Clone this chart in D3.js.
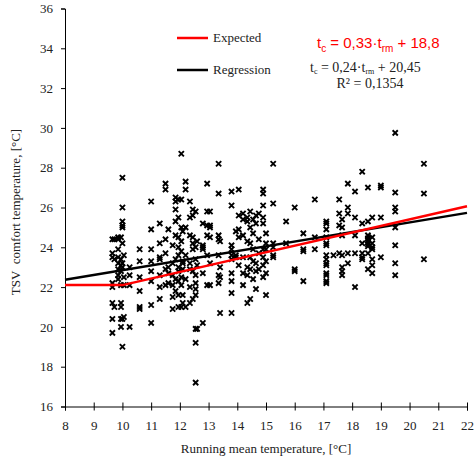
<!DOCTYPE html>
<html lang="en">
<head>
<meta charset="UTF-8">
<title>TSV comfort temperature</title>
<style>
  body { margin: 0; padding: 0; background: #fff; }
  svg { display: block; }
  .tick text { font-family: "Liberation Serif", "Times New Roman", serif; font-size: 13px; fill: #222; }
  .serif { font-family: "Liberation Serif", "Times New Roman", serif; fill: #222; }
</style>
</head>
<body>
<svg id="chart" width="475" height="464"></svg>
<script src="https://d3js.org/d3.v7.min.js"></script>
<script>
// running mean temperature columns and observed comfort temperatures at each
const rmColumns = [9.65, 9.72, 9.85, 9.95, 10.0, 10.05, 10.25, 10.6, 11.0, 11.3,
  11.5, 11.6, 11.75, 11.85, 11.95, 12.05, 12.1, 12.2, 12.35, 12.45,
  12.55, 12.6, 12.8, 12.95, 13.05, 13.35, 13.4, 13.8, 13.95, 14.05,
  14.2, 14.35, 14.45, 14.55, 14.65, 14.75, 14.9, 15.0, 15.25, 15.7,
  16.0, 16.3, 16.7, 17.1, 17.35, 17.55, 17.65, 17.85, 18.1, 18.35,
  18.55, 18.7, 19.0, 19.5, 20.5];
const tsvValues = [
  [23.7, 23.5, 22.2, 22.0, 21.2, 20.4, 19.7, 24.4],
  [24.4, 23.4, 21.0],
  [24.5, 24.4, 23.9, 23.5, 23.2, 22.6, 22.9, 22.4],
  [21.2, 21.0, 20.4, 20.0, 22.1, 22.8, 23.1, 23.4, 24.5],
  [27.5, 26.0, 25.3, 25.1, 25.0, 24.2, 23.0, 23.2, 19.0, 20.4],
  [20.5, 22.5, 22.1, 23.6],
  [22.1, 23.0, 20.0, 22.6],
  [23.3, 21.8, 21.0, 20.9, 22.5, 23.9],
  [26.3, 23.9, 22.3, 21.1, 20.2, 23.3, 22.8, 24.9],
  [24.2, 23.5, 23.4, 22.6, 22.0, 21.4, 25.2],
  [27.2, 26.9, 22.1, 22.9, 23.7, 24.4],
  [22.2, 22.7, 23.0, 24.9],
  [20.9, 21.5, 22.1, 22.6, 23.2, 24.1],
  [26.5, 26.3, 25.3, 21.8, 22.4, 23.4, 24.6, 25.9],
  [26.4, 25.5, 24.5, 24.0, 23.6, 23.0, 22.3, 21.0, 22.8, 21.6],
  [28.7, 26.4, 24.3, 23.8, 22.1, 21.0, 22.5, 25.0],
  [23.3, 22.9, 21.6, 21.2, 24.8, 23.2],
  [27.3, 26.9, 25.0, 21.0, 22.4, 23.6],
  [26.3, 25.5, 21.2, 22.0, 22.9, 24.6, 23.2],
  [25.9, 25.6, 24.5, 24.2, 21.4, 22.8, 23.9],
  [25.8, 24.0, 21.6, 21.9, 22.2, 19.9, 19.2, 17.2, 23.4, 22.6],
  [19.9, 24.3, 23.1],
  [25.2, 24.1, 24.0, 23.9, 20.2, 22.7],
  [27.2, 25.8, 25.1, 23.6, 22.1, 24.6],
  [25.8, 25.1, 25.0, 24.5, 22.1, 23.2],
  [28.2, 26.7, 24.6, 24.4, 22.6, 22.2, 23.6],
  [24.3, 22.5, 20.7, 23.0],
  [26.8, 26.1, 24.1, 23.9, 23.6, 23.4, 22.7, 22.3, 21.7, 20.7],
  [23.5, 23.6, 24.8],
  [26.9, 25.6, 24.9, 24.5, 23.1],
  [25.7, 25.4, 24.6, 22.7, 22.1, 23.5],
  [25.5, 25.3, 24.3, 22.6, 21.2, 23.0],
  [25.8, 25.0, 24.2, 23.5, 22.9, 21.4],
  [25.4, 24.7, 23.3, 22.4, 23.9],
  [25.6, 25.2, 23.2, 21.9, 22.8],
  [25.7, 24.4, 23.7, 22.9],
  [26.9, 26.7, 26.1, 25.5, 25.2, 23.9, 23.1, 22.5, 23.5],
  [24.7, 23.9, 23.3, 22.7, 21.6, 24.2],
  [28.2, 26.2, 24.2, 24.0, 23.6, 23.5],
  [25.3, 24.2],
  [26.0, 22.8, 22.9],
  [24.7, 23.9, 23.8, 22.3],
  [26.4, 23.9, 24.5],
  [25.3, 25.2, 24.9, 24.5, 24.2, 24.1, 23.6, 23.4, 23.2, 23.1, 22.6, 22.7, 22.3, 22.2],
  [23.6],
  [26.4, 25.7, 23.7, 25.1],
  [25.4, 25.0, 24.6, 23.6, 23.0, 22.8, 22.6],
  [27.2, 26.0, 25.7, 23.7, 23.2],
  [26.8, 25.5, 24.6, 23.7, 22.0],
  [27.8, 25.2, 24.2, 23.7, 23.5, 23.4],
  [27.0, 25.3, 24.6, 24.45, 24.35, 24.25, 24.15, 24.05, 23.7, 22.9],
  [25.5, 24.5, 24.2, 24.0, 23.9, 23.4, 23.1, 22.7],
  [27.1, 27.0, 25.5, 23.5],
  [29.75, 26.75, 26.0, 25.8, 25.0, 24.1, 23.2, 22.6],
  [28.2, 26.7, 23.4]
];

// expected (adaptive model) and regression lines
const expectedX = [8, 10, 22];
const expectedY = [22.1, 22.1, 26.06];
const regressionX = [8, 22];
const regressionY = [22.37, 25.73];

const xTicks = d3.range(8, 23, 1);
const yTicks = d3.range(16, 37, 2);

const margin = { top: 8.5, right: 8, bottom: 57.5, left: 65 };
const width = 475, height = 464;

const svg = d3.select('#chart');

const x = d3.scaleLinear().domain([8, 22]).range([margin.left, width - margin.right]);
const y = d3.scaleLinear().domain([16, 36]).range([height - margin.bottom, margin.top]);

// axes
const xAxis = svg.append('g')
  .attr('transform', `translate(0,${height - margin.bottom})`)
  .call(d3.axisBottom(x).tickValues(xTicks).tickSize(4).tickPadding(10).tickFormat(d3.format('d')));
xAxis.selectAll('.tick line').attr('y1', -4);

const yAxis = svg.append('g')
  .attr('transform', `translate(${margin.left},0)`)
  .call(d3.axisLeft(y).tickValues(yTicks).tickSize(4).tickPadding(8).tickFormat(d3.format('d')));

svg.selectAll('.domain').attr('stroke', '#000');
svg.selectAll('.tick line').attr('stroke', '#000');

// scatter markers (x shape)
const points = [];
rmColumns.forEach((c, i) => tsvValues[i].forEach(v => points.push([c, v])));

const r = 2.6;
svg.append('g')
  .selectAll('path')
  .data(points)
  .join('path')
  .attr('d', d => {
    const px = x(d[0]), py = y(d[1]);
    return `M${px - r},${py - r}L${px + r},${py + r}M${px - r},${py + r}L${px + r},${py - r}`;
  })
  .attr('stroke', '#000')
  .attr('stroke-width', 1.9)
  .attr('fill', 'none');

// lines
const line = d3.line().x(d => x(d[0])).y(d => y(d[1]));
svg.append('path')
  .datum(regressionX.map((v, i) => [v, regressionY[i]]))
  .attr('d', line)
  .attr('stroke', '#000')
  .attr('stroke-width', 2.5)
  .attr('fill', 'none');
svg.append('path')
  .datum(expectedX.map((v, i) => [v, expectedY[i]]))
  .attr('d', line)
  .attr('stroke', '#ff0000')
  .attr('stroke-width', 2.5)
  .attr('fill', 'none');

// legend
const legend = [
  { label: 'Expected', color: '#ff0000', y: 38 },
  { label: 'Regression', color: '#000', y: 70 }
];
legend.forEach(l => {
  svg.append('line')
    .attr('x1', 177).attr('x2', 208)
    .attr('y1', l.y).attr('y2', l.y)
    .attr('stroke', l.color).attr('stroke-width', 2.5);
  svg.append('text')
    .attr('class', 'serif')
    .attr('x', 213).attr('y', l.y + 4)
    .attr('font-size', 13)
    .text(l.label);
});

// equations
const eqRed = svg.append('text')
  .attr('x', 317).attr('y', 48)
  .attr('font-family', '"Liberation Sans", Arial, sans-serif')
  .attr('font-size', 15)
  .attr('fill', '#ff0000');
eqRed.append('tspan').text('t');
eqRed.append('tspan').attr('dy', 4).attr('font-size', 10).text('c');
eqRed.append('tspan').attr('dy', -4).text(' = 0,33·t');
eqRed.append('tspan').attr('dy', 4).attr('font-size', 10).text('rm');
eqRed.append('tspan').attr('dy', -4).text(' + 18,8');

const eqBlack = svg.append('text')
  .attr('class', 'serif')
  .attr('x', 310).attr('y', 72)
  .attr('font-size', 14);
eqBlack.append('tspan').text('t');
eqBlack.append('tspan').attr('dy', 2).attr('font-size', 8).text('c');
eqBlack.append('tspan').attr('dy', -2).text(' = 0,24·t');
eqBlack.append('tspan').attr('dy', 2).attr('font-size', 8).text('rm');
eqBlack.append('tspan').attr('dy', -2).text(' + 20,45');

svg.append('text')
  .attr('class', 'serif')
  .attr('x', 370).attr('y', 88)
  .attr('text-anchor', 'middle')
  .attr('font-size', 14)
  .text('R² = 0,1354');

// axis titles
svg.append('text')
  .attr('class', 'serif')
  .attr('x', (margin.left + width - margin.right) / 2)
  .attr('y', 453)
  .attr('text-anchor', 'middle')
  .attr('font-size', 13)
  .text('Running mean temperature, [°C]');

svg.append('text')
  .attr('class', 'serif')
  .attr('transform', 'translate(20,212) rotate(-90)')
  .attr('text-anchor', 'middle')
  .attr('font-size', 13)
  .style('white-space', 'pre')
  .text('TSV  comfort temperature, [°C]');
</script>
</body>
</html>
